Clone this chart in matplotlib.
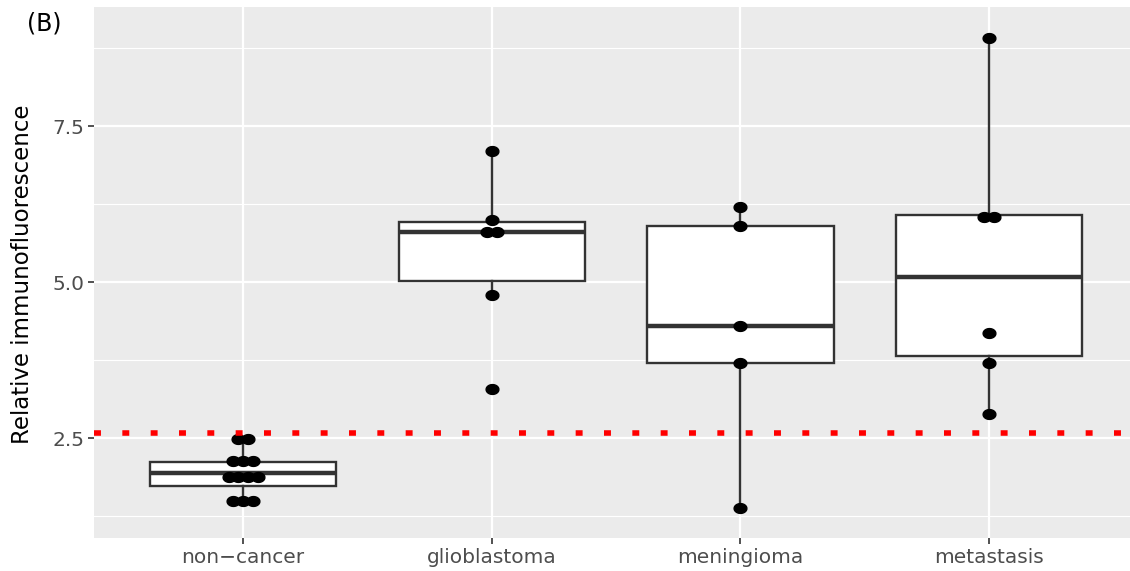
import numpy as np
import matplotlib
matplotlib.use("Agg")
import matplotlib.pyplot as plt
from matplotlib.path import Path

# groups on the x axis
groups = ["non\u2212cancer", "glioblastoma", "meningioma", "metastasis"]

# box statistics
whis_lo = [1.49, 4.80, 1.38, 2.89]
q1 = [1.73, 5.02, 3.70, 3.82]
medians = [1.94, 5.80, 4.30, 5.09]
q3 = [2.11, 5.97, 5.90, 6.07]
whis_hi = [2.48, 7.11, 6.20, 8.91]

# individual samples (dotplot bins)
pts_noncancer = [2.48, 2.48, 2.13, 2.13, 2.13, 1.87, 1.87, 1.87, 1.87, 1.49, 1.49, 1.49]
pts_glio = [7.11, 6.00, 5.80, 5.80, 4.80, 3.29]
pts_menin = [6.20, 5.90, 4.29, 3.70, 1.38]
pts_meta = [8.91, 6.05, 6.05, 4.19, 3.70, 2.89]

cutoff = 2.58

fig = plt.figure(figsize=(11.3, 5.71), dpi=100)
ax = fig.add_axes([94 / 1130, 33 / 571, 1044 / 1130, 531 / 571])
ax.set_facecolor("#EBEBEB")
for s in ax.spines.values():
    s.set_visible(False)

xs = np.arange(1, len(groups) + 1)

stats = []
for i in range(len(groups)):
    stats.append(dict(whislo=whis_lo[i], q1=q1[i], med=medians[i], q3=q3[i],
                      whishi=whis_hi[i], fliers=[]))
ax.bxp(stats, positions=xs, widths=0.75, showcaps=False, patch_artist=True,
       boxprops=dict(facecolor="white", edgecolor="#333333", linewidth=1.7),
       whiskerprops=dict(color="#333333", linewidth=1.7),
       medianprops=dict(color="#333333", linewidth=3.2),
       zorder=2)

# slightly wide ellipse marker like the stretched original
t = np.linspace(0, 2 * np.pi, 60)
ell = Path(np.column_stack([1.3 * np.cos(t), np.sin(t)]))

dot_w = 0.039
for x, pts in zip(xs, [pts_noncancer, pts_glio, pts_menin, pts_meta]):
    vals, counts = np.unique(pts, return_counts=True)
    for v, n in zip(vals, counts):
        offs = (np.arange(n) - (n - 1) / 2) * dot_w
        ax.plot(x + offs, [v] * n, linestyle="none", marker=ell,
                markersize=9.2, color="black", zorder=3)

ax.axhline(cutoff, color="#FF0000", linewidth=4, linestyle=(0, (1.25, 3.85)),
           dash_capstyle="butt", zorder=4)

ax.set_xlim(0.4, 4.6)
ax.set_ylim(0.90, 9.41)
ax.set_xticks(xs)
ax.set_xticklabels(groups)
ax.set_yticks([2.5, 5.0, 7.5])
ax.set_yticklabels(["2.5", "5.0", "7.5"])
ax.set_yticks([1.25, 3.75, 6.25, 8.75], minor=True)
ax.grid(which="major", color="white", linewidth=1.6, zorder=0)
ax.grid(which="minor", axis="y", color="white", linewidth=0.8, zorder=0)
ax.set_axisbelow(True)
ax.tick_params(which="major", length=4, width=1.2, color="#333333",
               labelcolor="#4D4D4D", labelsize=14.5, pad=3)
ax.tick_params(which="minor", length=0)

fig.text(23 / 1130, 1 - 274 / 571, "Relative immunofluorescence", fontsize=16.5,
         rotation=90, ha="center", va="center", color="black")
fig.text(27 / 1130, 1 - 24 / 571, "(B)", fontsize=17, va="center", ha="left")

fig.savefig("out.png", dpi=100)
